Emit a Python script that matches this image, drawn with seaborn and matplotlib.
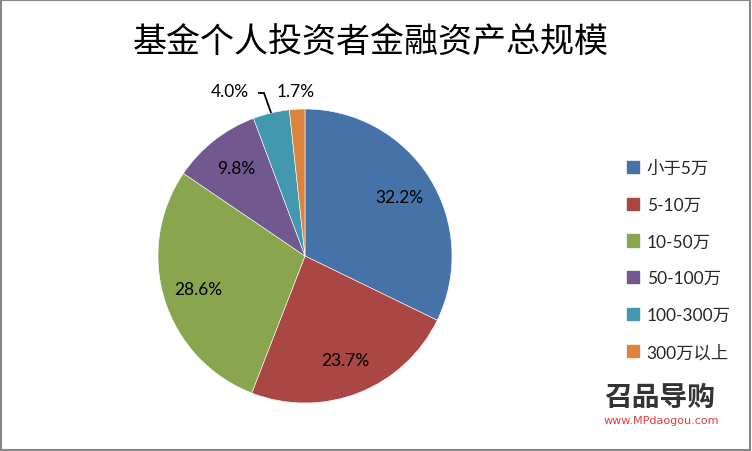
import numpy as np
import matplotlib
matplotlib.use("Agg")
import matplotlib.pyplot as plt
from matplotlib.patches import Rectangle, Patch
import seaborn as sns

categories = ["小于5万", "5-10万", "10-50万", "50-100万", "100-300万", "300万以上"]
values = [32.2, 23.7, 28.6, 9.8, 4.0, 1.7]
title = "基金个人投资者金融资产总规模"
colors_hex = ["#4572A7", "#AA4643", "#89A54E", "#71588F", "#4198AF", "#DB843D"]

sns.set_theme(style="white")
plt.rcParams['font.family'] = ['Lato', 'Noto Sans CJK SC', 'DejaVu Sans']
palette = sns.color_palette(colors_hex)

W, H = 752, 452
fig = plt.figure(figsize=(W / 100, H / 100), dpi=100)
fig.patch.set_facecolor("white")

cx, cy, r = 305, 257, 147
ax = fig.add_axes([(cx - r) / W, (H - cy - r) / H, 2 * r / W, 2 * r / H])
wedges, texts, autotexts = ax.pie(
    values, colors=palette, startangle=90, counterclock=False,
    autopct=lambda p: f"{p:.1f}%", pctdistance=0.76,
    wedgeprops=dict(edgecolor="white", linewidth=0.4),
    textprops=dict(fontsize=12.5, color="black"))
ax.set_xlim(-1, 1)
ax.set_ylim(-1, 1)
ax.set_aspect("equal")
ax.axis("off")

# move the two small slice labels outside
for i, (dx, dy) in {4: (-0.51, 1.12), 5: (-0.06, 1.12)}.items():
    autotexts[i].set_position((dx, dy))
    autotexts[i].set_ha("center")
    autotexts[i].set_va("center")

# leader line for the 4.0% slice
w = wedges[4]
ang = np.deg2rad((w.theta1 + w.theta2) / 2)
ex, ey = np.cos(ang), np.sin(ang)
ax.plot([-0.32, -0.279, ex], [1.109, 1.109, ey], color="black", lw=1.3,
        clip_on=False, solid_capstyle="butt")

fig.text(371 / W, 1 - 42 / H, title, ha="center", va="center", fontsize=24.5,
         color="black", family=['Noto Sans CJK SC'])

handles = [Patch(facecolor=c, edgecolor=c) for c in palette]
leg = fig.legend(handles, categories, loc="upper left",
                 bbox_to_anchor=(618 / W, 1 - 152 / H), frameon=False,
                 fontsize=12.5, handlelength=0.7, handleheight=0.7,
                 handletextpad=0.45, labelspacing=1.2, borderpad=0)

# watermark
fig.text(604 / W, 1 - 398 / H, "召品导购", ha="left", va="center",
         fontsize=20, fontweight="bold", color="#333333",
         family=['Noto Sans CJK SC'])
fig.text(604 / W, 1 - 421 / H, "www.MPdaogou.com", ha="left", va="center",
         fontsize=8, color="#E03C3C", family=['DejaVu Sans'])

fig.patches.append(Rectangle((0.001, 0.002), 0.997, 0.996, transform=fig.transFigure,
                             fill=False, edgecolor="#868686", linewidth=1.5))

fig.savefig("out.png", dpi=100, facecolor="white")
